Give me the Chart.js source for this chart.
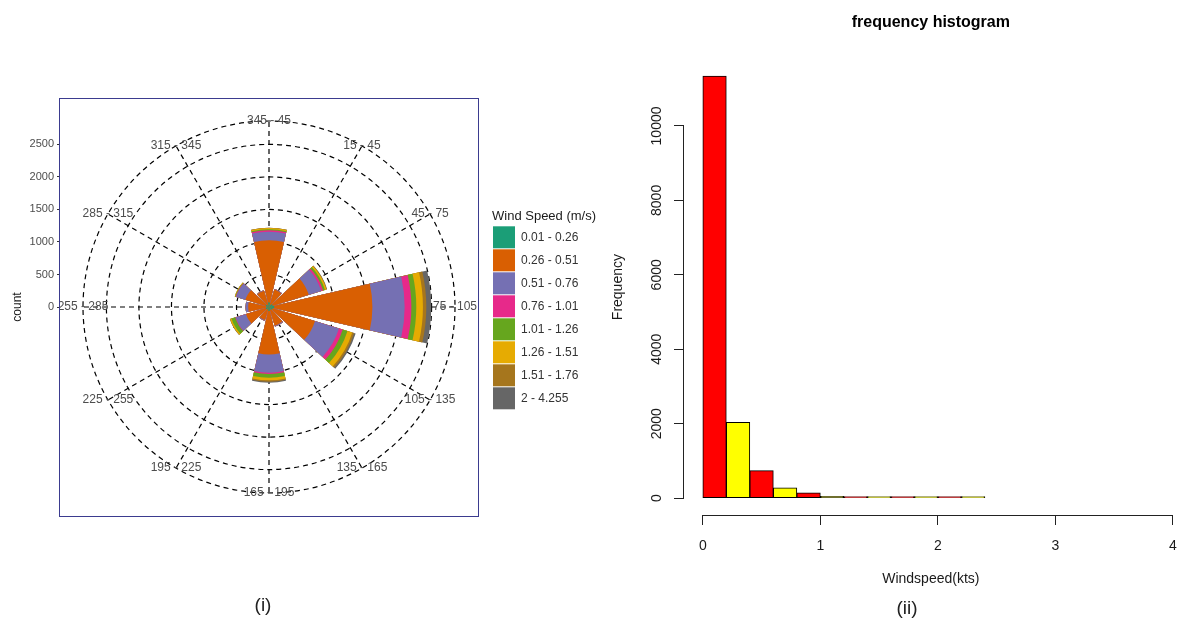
<!DOCTYPE html>
<html>
<head>
<meta charset="utf-8">
<title>Wind rose and frequency histogram</title>
<script src="https://cdn.jsdelivr.net/npm/chart.js@4.4.1/dist/chart.umd.min.js"></script>
<style>
  html, body { margin: 0; padding: 0; background: #fff; }
  #page { position: relative; width: 1190px; height: 624px; overflow: hidden; font-family: "Liberation Sans", Arial, sans-serif; }
  canvas { position: absolute; top: 0; }
  #rose { left: 0; }
  #hist { left: 600px; }
  #rose-frame { position: absolute; left: 59px; top: 98px; width: 418px; height: 417px; border: 1px solid #3b3b8f; pointer-events: none; }
  .caption { position: absolute; font-size: 19px; color: #222; transform: translate(-50%, -50%); }
</style>
</head>
<body>
<div id="page">
  <canvas id="rose" width="620" height="624"></canvas>
  <div id="rose-frame"></div>
  <canvas id="hist" width="590" height="624"></canvas>
  <div class="caption" style="left:263px; top:605px">(i)</div>
  <div class="caption" style="left:907px; top:608px">(ii)</div>
</div>
<script>
// Wind rose: counts per 30 degree sector (clockwise from north), one array per speed class
const directionLabels = ['345 - 45', '15 - 45', '45 - 75', '75 - 105', '105 - 135', '135 - 165',
    '165 - 195', '195 - 225', '225 - 255', '255 - 285', '285 - 315', '315 - 345'];
const speedClasses = ['0.01 - 0.26', '0.26 - 0.51', '0.51 - 0.76', '0.76 - 1.01',
    '1.01 - 1.26', '1.26 - 1.51', '1.51 - 1.76', '2 - 4.255'];
const speedColors = ['#1b9e77', '#d95f02', '#7570b3', '#e7298a', '#66a61e', '#e6ab02', '#a6761d', '#666666'];

const speed1 = [70, 40, 60, 80, 60, 40, 60, 40, 50, 40, 50, 40];
const speed2 = [955, 240, 580, 1510, 680, 260, 670, 170, 320, 280, 330, 220];
const speed3 = [133, 10, 200, 496, 385, 15, 281, 10, 165, 40, 150, 10];
const speed4 = [23, 0, 30, 103, 60, 0, 18, 0, 8, 0, 5, 0];
const speed5 = [15, 0, 30, 76, 77, 0, 58, 0, 60, 0, 8, 0];
const speed6 = [18, 0, 25, 102, 77, 0, 41, 0, 22, 0, 7, 0];
const speed7 = [4, 0, 5, 52, 30, 0, 20, 0, 3, 0, 0, 0];
const speed8 = [2, 0, 5, 76, 24, 0, 16, 0, 2, 0, 0, 0];

const countTicks = [0, 500, 1000, 1500, 2000, 2500];
const countMax = 2860;
const ringCounts = [...countTicks, countMax];

// Histogram of wind speed
const binEdges = [0, 0.2, 0.4, 0.6, 0.8, 1.0, 1.2, 1.4, 1.6, 1.8, 2.0, 2.2, 2.4];
const binCounts = [11340, 2035, 738, 274, 140, 45, 22, 9, 5, 3, 2, 1];
const binColors = ['#ff0000', '#ffff00'];
const freqTicks = [0, 2000, 4000, 6000, 8000, 10000];
const speedTicks = [0, 1, 2, 3, 4];

Chart.defaults.font.family = '"Liberation Sans", Arial, sans-serif';
Chart.defaults.animation = false;

// Sectors are 26 degrees wide with 4 degree gaps; each gap is an empty slot
const BAR_ANGLE = 26;
const GAP_ANGLE = 4;
const LEGEND_WIDTH = 120;
const roseLabels = directionLabels.flatMap(label => ['', label]);
const arcAngles = directionLabels.flatMap(() => [GAP_ANGLE, BAR_ANGLE]);
arcAngles[0] = GAP_ANGLE / 2;

// stacked rings: each dataset holds the running total, first dataset drawn on top
const speedLayers = [speed1, speed2, speed3, speed4, speed5, speed6, speed7, speed8];
let running = directionLabels.map(() => 0);
const roseDatasets = speedLayers.map((layer, i) => {
    running = running.map((v, d) => v + layer[d]);
    return {
        label: speedClasses[i],
        data: running.flatMap(v => [0, v]),
        backgroundColor: speedColors[i],
        borderWidth: 0,
        angle: arcAngles
    };
});

// Direction labels sit on the outer ring, centred on each sector
const directionLabelPlugin = {
    id: 'directionLabels',
    afterDatasetsDraw(chart) {
        const r = chart.scales.r;
        const ctx = chart.ctx;
        const area = chart.chartArea;
        const dist = r.getDistanceFromCenterForValue(r.max);
        ctx.save();
        ctx.beginPath();
        ctx.rect(area.left, 0, area.right - area.left, chart.height);
        ctx.clip();
        ctx.font = '12px "Liberation Sans", Arial, sans-serif';
        ctx.fillStyle = '#4d4d4d';
        ctx.textAlign = 'center';
        ctx.textBaseline = 'middle';
        chart.data.labels.forEach((label, i) => {
            if (!label) return;
            const p = r.getPointPosition(i, dist);
            ctx.fillText(label, p.x, p.y);
        });
        ctx.restore();
    }
};

// the legend clips to its box, so give it room for the title
const legendWidthPlugin = {
    id: 'legendWidth',
    beforeLayout(chart) {
        const legend = chart.legend;
        if (legend && !legend._widthFixed) {
            const fit = legend.fit.bind(legend);
            legend.fit = () => { fit(); legend.width = LEGEND_WIDTH; };
            legend._widthFixed = true;
        }
    }
};

new Chart(document.getElementById('rose'), {
    type: 'polarArea',
    data: { labels: roseLabels, datasets: roseDatasets },
    options: {
        responsive: false,
        events: [],
        layout: { padding: { left: 0, right: 8, top: 121, bottom: 131 } },
        scales: {
            r: {
                min: 0,
                max: countMax,
                startAngle: -15,
                afterBuildTicks: scale => { scale.ticks = ringCounts.map(v => ({ value: v })); },
                ticks: { display: false },
                grid: { circular: true, color: '#000', lineWidth: 1.2, borderDash: [5, 4] },
                border: { dash: [5, 4] },
                angleLines: {
                    display: true,
                    color: '#000',
                    lineWidth: ctx => (ctx.index % 2 ? 1.2 : 0),
                    borderDash: [5, 4]
                },
                pointLabels: { display: false }
            },
            y: {
                type: 'linear',
                axis: 'y',
                position: 'left',
                min: -countMax,
                max: countMax,
                afterBuildTicks: scale => { scale.ticks = countTicks.map(v => ({ value: v })); },
                afterFit: scale => { scale.width = 60; },
                ticks: { font: { size: 11 }, color: '#4d4d4d', padding: 3, autoSkip: false, callback: v => String(v) },
                grid: { display: true, drawOnChartArea: false, drawTicks: true, tickLength: 3, color: '#333' },
                border: { display: false },
                title: { display: true, text: 'count', font: { size: 12 }, color: '#1a1a1a', padding: { top: 10, bottom: 0 } }
            },
            gap: {
                type: 'linear',
                axis: 'y',
                position: 'right',
                afterFit: scale => { scale.width = 14; },
                ticks: { display: false },
                grid: { display: false },
                border: { display: false }
            }
        },
        plugins: {
            tooltip: { enabled: false },
            legend: {
                position: 'right',
                align: 'center',
                title: {
                    display: true,
                    text: 'Wind Speed (m/s)',
                    position: 'start',
                    color: '#1a1a1a',
                    font: { size: 13 },
                    padding: { top: 6, bottom: 0 }
                },
                labels: {
                    boxWidth: 22,
                    boxHeight: 22,
                    padding: 1,
                    font: { size: 12 },
                    color: '#333',
                    generateLabels: chart => chart.data.datasets.map((ds, i) => ({
                        text: ds.label,
                        fillStyle: ds.backgroundColor,
                        strokeStyle: ds.backgroundColor,
                        lineWidth: 0,
                        hidden: false,
                        fontColor: '#333',
                        datasetIndex: i
                    }))
                }
            }
        }
    },
    plugins: [directionLabelPlugin, legendWidthPlugin]
});

// R style axes: the axis line only runs from the first to the last tick
const axisSegmentPlugin = {
    id: 'axisSegments',
    afterDraw(chart) {
        const { x, y } = chart.scales;
        const ctx = chart.ctx;
        const xLine = Math.round(x.top) + 0.5;
        const yLine = Math.round(y.right) - 0.5;
        ctx.save();
        ctx.strokeStyle = '#222';
        ctx.lineWidth = 1;
        ctx.beginPath();
        ctx.moveTo(x.getPixelForValue(speedTicks[0]), xLine);
        ctx.lineTo(x.getPixelForValue(speedTicks[speedTicks.length - 1]), xLine);
        ctx.moveTo(yLine, y.getPixelForValue(freqTicks[0]));
        ctx.lineTo(yLine, y.getPixelForValue(freqTicks[freqTicks.length - 1]));
        ctx.stroke();
        ctx.restore();
    }
};

const histData = binCounts.map((count, i) => ({ x: (binEdges[i] + binEdges[i + 1]) / 2, y: count }));

new Chart(document.getElementById('hist'), {
    type: 'bar',
    data: {
        datasets: [{
            data: histData,
            backgroundColor: binCounts.map((_, i) => binColors[i % 2]),
            borderColor: '#000',
            borderWidth: 1,
            borderSkipped: false,
            barPercentage: 1,
            categoryPercentage: 1,
            minBarLength: 1.5
        }]
    },
    options: {
        responsive: false,
        events: [],
        layout: { padding: { left: 0, right: 9, top: 0, bottom: 27 } },
        scales: {
            x: {
                type: 'linear',
                min: -0.16,
                max: 4.04,
                offset: false,
                afterBuildTicks: scale => { scale.ticks = speedTicks.map(v => ({ value: v })); },
                afterFit: scale => { scale.height = 82; },
                ticks: { font: { size: 14 }, color: '#1a1a1a', padding: 13, autoSkip: false, maxRotation: 0, callback: v => String(v) },
                grid: { display: true, drawOnChartArea: false, drawTicks: true, tickLength: 10, color: '#222', offset: false },
                border: { display: false },
                title: { display: true, text: 'Windspeed(kts)', font: { size: 14 }, color: '#1a1a1a', padding: { top: 0, bottom: 9 } }
            },
            y: {
                min: -454,
                max: 11794,
                afterBuildTicks: scale => { scale.ticks = freqTicks.map(v => ({ value: v })); },
                afterFit: scale => { scale.width = 84; },
                ticks: { font: { size: 14 }, color: '#1a1a1a', padding: -3, minRotation: 90, maxRotation: 90, crossAlign: 'center', autoSkip: false, callback: v => String(v) },
                grid: { display: true, drawOnChartArea: false, drawTicks: true, tickLength: 10, color: '#222' },
                border: { display: false },
                title: { display: true, text: 'Frequency', font: { size: 14 }, color: '#1a1a1a', padding: { top: 10, bottom: 0 } }
            }
        },
        plugins: {
            legend: { display: false },
            tooltip: { enabled: false },
            title: {
                display: true,
                text: 'frequency histogram',
                fullSize: false,
                color: '#000',
                font: { size: 16, weight: 'bold' },
                padding: { top: 13, bottom: 27 }
            }
        }
    },
    plugins: [axisSegmentPlugin]
});
</script>
</body>
</html>
